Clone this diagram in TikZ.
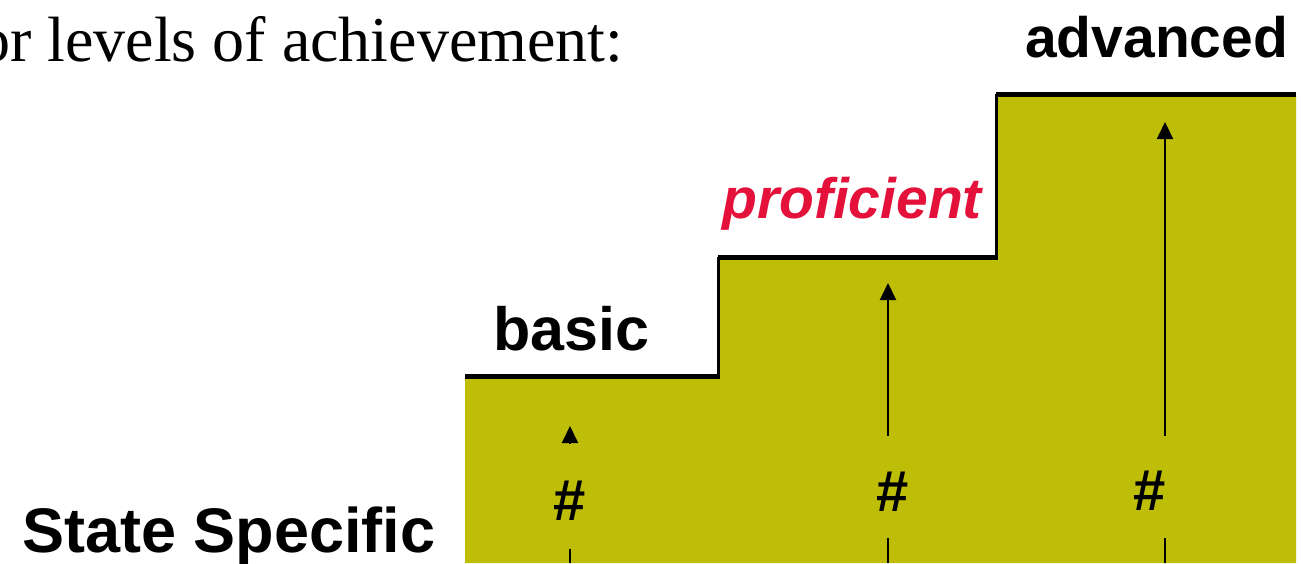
\documentclass[tikz,border=0pt]{standalone}
\usepackage{fontspec}
\setmainfont{Liberation Serif}
\newfontfamily\arial{Liberation Sans}
\usetikzlibrary{arrows.meta}
\definecolor{olive}{RGB}{190,190,8}
\definecolor{lvlred}{RGB}{228,18,58}
\tikzset{
  lbl/.style={inner sep=0pt, anchor=base west, font=\arial\bfseries},
  hash/.style={inner sep=0pt, anchor=base, font=\arial\bfseries\fontsize{58}{58}\selectfont},
  arr/.style={line width=2pt, -{Triangle[width=16pt,length=17pt]}},
  thinline/.style={line width=2pt},
  edge/.style={line width=5pt},
  riser/.style={line width=3pt}
}
\begin{document}
\begin{tikzpicture}[x=1pt,y=-1pt]
\useasboundingbox (0,0) rectangle (1303,563);
\fill[white] (0,0) rectangle (1303,563);
% olive staircase
\fill[olive] (465,563) -- (465,377) -- (718,377) -- (718,258) -- (996,258) -- (996,95) -- (1296,95) -- (1296,563) -- cycle;
\draw[edge] (465,376) -- (720,376);
\draw[riser] (718,377) -- (718,257);
\draw[edge] (718,257) -- (998,257);
\draw[riser] (996,258) -- (996,94);
\draw[edge] (996,94) -- (1296,94);
% texts
\node[inner sep=0pt, anchor=base west, font=\fontsize{64}{64}\selectfont] (intro) at (-22,61) {or levels of achievement:};
\node[lbl, font=\arial\bfseries\fontsize{57}{57}\selectfont] (adv) at (1025,57) {advanced};
\node[lbl, font=\arial\bfseries\itshape\fontsize{57}{57}\selectfont, text=lvlred] (prof) at (722,218) {proficient};
\node[lbl, font=\arial\bfseries\fontsize{61}{61}\selectfont] (basic) at (493,350) {basic};
\node[lbl, font=\arial\bfseries\fontsize{63}{63}\selectfont] (state) at (22,552) {State Specific};
% hash marks
\node[hash] (h1) at (570,520) {\#};
\node[hash] (h2) at (893,511) {\#};
\node[hash] (h3) at (1150,510) {\#};
% arrows
\coordinate (s1) at (570,444);
\coordinate (t1) at (570,426);
\coordinate (s2) at (888,436);
\coordinate (t2) at (888,283);
\coordinate (s3) at (1165,436);
\coordinate (t3) at (1165,122);
\draw[arr] (s1) -- (t1);
\draw[arr] (s2) -- (t2);
\draw[arr] (s3) -- (t3);
\coordinate (l1) at (570,549);
\coordinate (l2) at (888,538);
\coordinate (l3) at (1165,538);
\coordinate (b1) at (570,563);
\coordinate (b2) at (888,563);
\coordinate (b3) at (1165,563);
\draw[thinline] (l1) -- (b1);
\draw[thinline] (l2) -- (b2);
\draw[thinline] (l3) -- (b3);
\end{tikzpicture}
\end{document}
